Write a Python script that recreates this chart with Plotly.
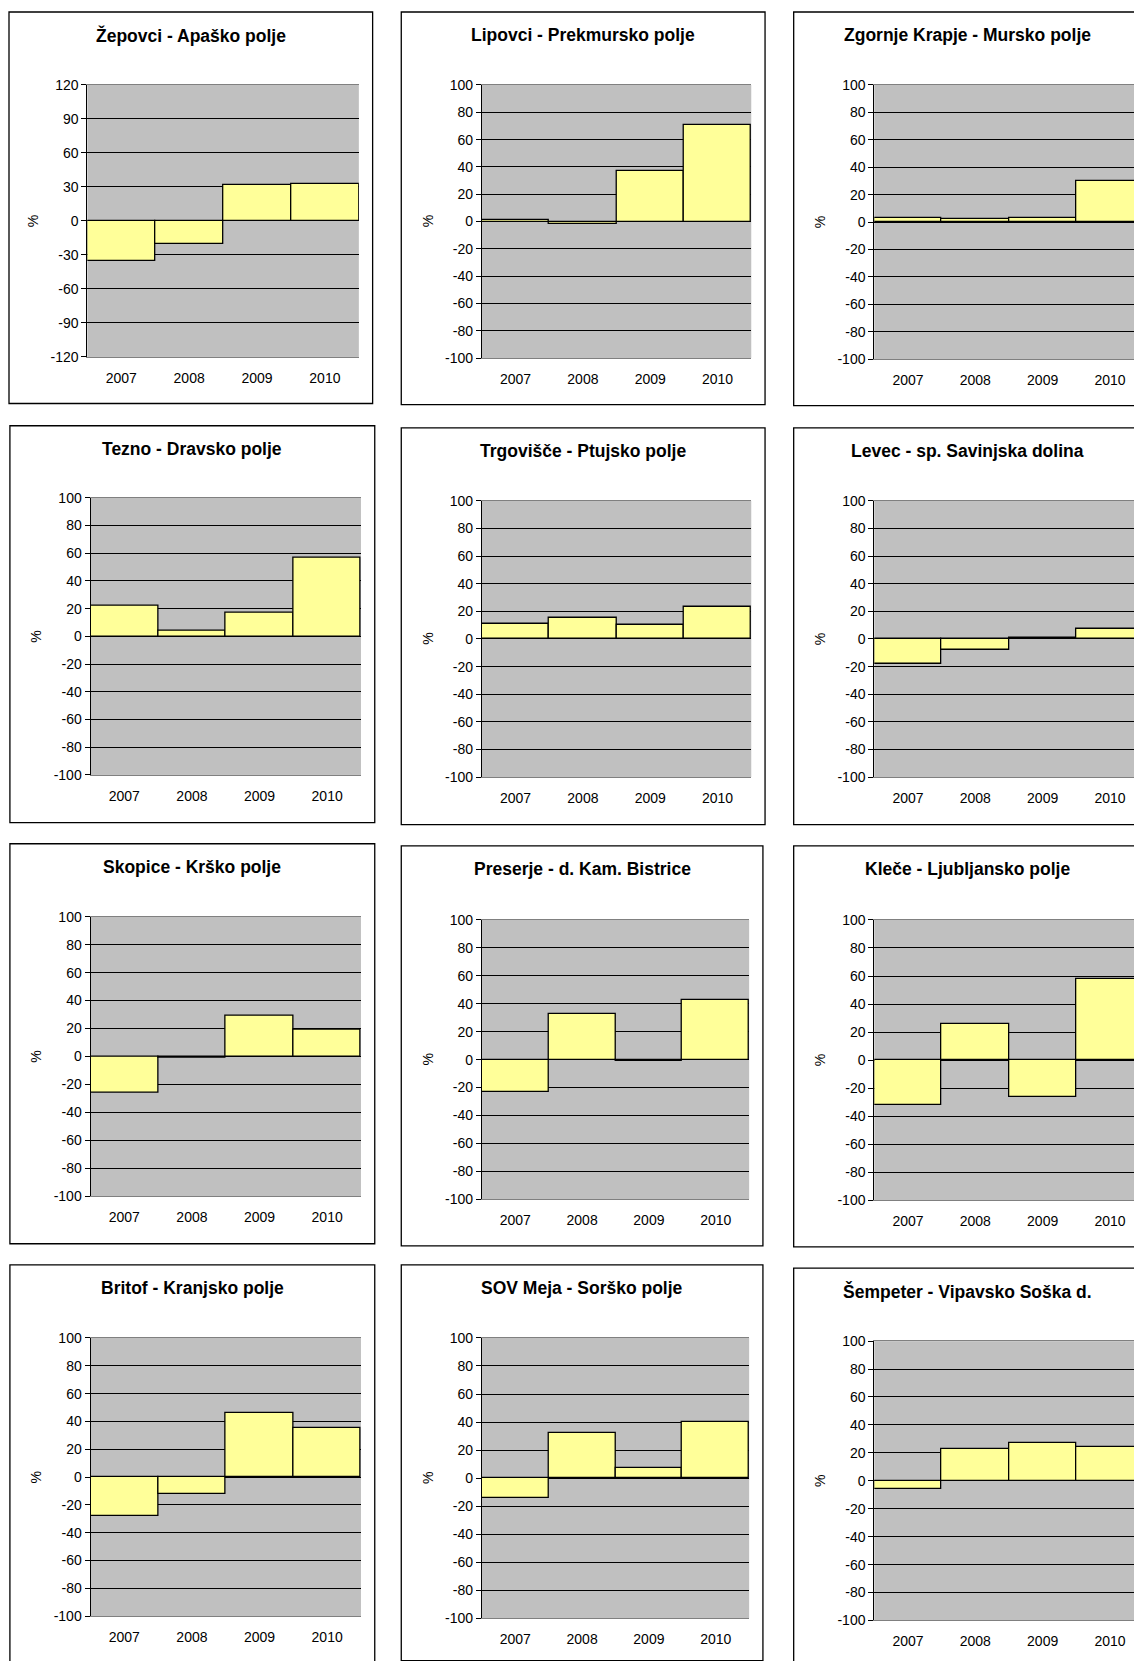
import plotly.graph_objects as go

W, H = 1142, 1661
S = 1142 / 1080.0  # reference measured in scaled pixels

years = ["2007", "2008", "2009", "2010"]

titles = [
    "Žepovci - Apaško polje", "Lipovci - Prekmursko polje", "Zgornje Krapje - Mursko polje",
    "Tezno - Dravsko polje", "Trgovišče - Ptujsko polje", "Levec - sp. Savinjska dolina",
    "Skopice - Krško polje", "Preserje - d. Kam. Bistrice", "Kleče - Ljubljansko polje",
    "Britof - Kranjsko polje", "SOV Meja - Sorško polje", "Šempeter - Vipavsko Soška d.",
]

zepovci = [-35, -20, 32, 33]
lipovci = [1, -2, 37, 71]
krapje = [3, 2, 3, 30]
tezno = [22, 4, 17, 57]
trgovisce = [11, 15, 10, 23]
levec = [-18, -8, 0.5, 7]
skopice = [-26, -1, 29, 19]
preserje = [-23, 33, -1, 43]
klece = [-32, 26, -26, 58]
britof = [-28, -12, 46, 35]
sov_meja = [-14, 32, 7, 40]
sempeter = [-6, 23, 27, 24]

series = [zepovci, lipovci, krapje, tezno, trgovisce, levec,
          skopice, preserje, klece, britof, sov_meja, sempeter]

ticks_120 = [-120, -90, -60, -30, 0, 30, 60, 90, 120]
ticks_100 = [-100, -80, -60, -40, -20, 0, 20, 40, 60, 80, 100]

# boxes and plot areas (x0, y0, x1, y1) in reference pixels
boxes = [
    (8, 10, 351, 380), (378, 10, 721, 381), (748, 10, 1090, 382),
    (9, 401, 353, 776), (378, 403, 721, 778), (748, 403, 1090, 778),
    (9, 796, 353, 1174), (378, 798, 719, 1176), (748, 798, 1090, 1177),
    (9, 1194, 353, 1575), (378, 1194, 719, 1568), (748, 1197, 1090, 1575),
]
plots = [
    (82, 79, 338, 336), (454, 79, 708, 337), (824, 79, 1078, 338),
    (85, 469, 340, 731), (454, 472, 708, 733), (824, 472, 1078, 733),
    (85, 865, 340, 1129), (454, 868, 706, 1132), (824, 868, 1078, 1133),
    (85, 1263, 340, 1526), (454, 1263, 706, 1528), (824, 1266, 1078, 1530),
]

def px(x):
    x = (x - 7.2) / 0.997
    return max(x * S / W, 1.0 / W)

def py(y):
    y = (y - 13.8) / 0.9896
    return 1 - y * S / H

fig = go.Figure()
font = "Liberation Sans, Arial, sans-serif"
shapes, annots = [], []

for i, vals in enumerate(series):
    n = "" if i == 0 else str(i + 1)
    fig.add_trace(go.Bar(x=years, y=vals, width=1, xaxis="x" + n, yaxis="y" + n,
                         marker=dict(color="#FFFF99", line=dict(color="black", width=1.3)),
                         showlegend=False))
    x0, y0, x1, y1 = plots[i]
    tv = ticks_120 if i == 0 else ticks_100
    fig.layout["xaxis" + n] = dict(domain=[px(x0), min(px(x1), 1)], anchor="y" + n,
                                   showgrid=False, ticks="", tickfont=dict(size=14, color="black"),
                                   ticklabelstandoff=8, showline=True, linecolor="#808080",
                                   mirror=True, fixedrange=True)
    fig.layout["yaxis" + n] = dict(domain=[py(y1), py(y0)], anchor="x" + n, range=[tv[0], tv[-1]],
                                   tickvals=tv, ticktext=[str(v) for v in tv],
                                   showgrid=True, gridcolor="black", gridwidth=1,
                                   zeroline=True, zerolinecolor="black", zerolinewidth=1,
                                   ticks="outside", ticklen=5, tickcolor="black",
                                   tickfont=dict(size=14, color="black"),
                                   showline=True, linecolor="black", fixedrange=True)
    bx0, by0, bx1, by1 = boxes[i]
    shapes.append(dict(type="rect", xref="paper", yref="paper",
                       x0=px(bx0), x1=px(bx1), y0=py(by1), y1=py(by0),
                       line=dict(color="black", width=1.3), layer="below"))
    cx = (bx0 + bx1) / 2 if i % 3 != 2 else (bx0 + 1076) / 2
    annots.append(dict(text="<b>" + titles[i] + "</b>", xref="paper", yref="paper",
                       x=px(cx), y=py(by0 + 22), xanchor="center", yanchor="middle",
                       showarrow=False, font=dict(size=17.5, color="black", family=font)))
    annots.append(dict(text="%", xref="paper", yref="paper", x=px(x0 - 51), y=py((y0 + y1) / 2),
                       xanchor="center", yanchor="middle",
                       textangle=-90, showarrow=False, font=dict(size=14, color="black", family=font)))

fig.update_layout(width=W, height=H, margin=dict(l=0, r=0, t=0, b=0),
                  paper_bgcolor="white", plot_bgcolor="#C0C0C0", bargap=0,
                  font=dict(family=font, color="black"), shapes=shapes, annotations=annots)
fig.write_html("out.html")
